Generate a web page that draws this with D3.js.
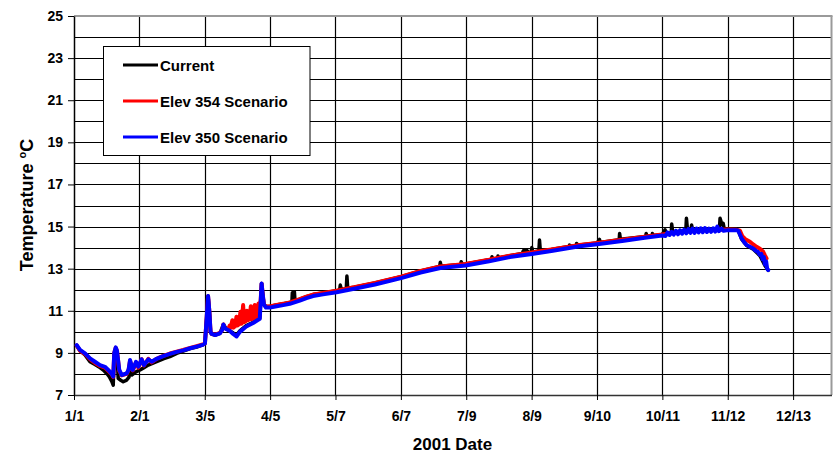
<!DOCTYPE html>
<html>
<head>
<meta charset="utf-8">
<script src="https://cdn.jsdelivr.net/npm/d3@7"></script>
<style>
  html, body { margin: 0; padding: 0; background: #fff; }
  svg text { font-family: "Liberation Sans", Arial, sans-serif; font-weight: bold; fill: #000; }
</style>
</head>
<body>
<svg id="chart" width="835" height="453"></svg>
<script>
// ---- Data (day of year 2001, temperature °C) ----
const xTickDays = [0, 31.5, 63, 94.5, 126, 157.5, 189, 220.5, 252, 283.5, 315, 346.5];
const xTickLabels = ["1/1", "2/1", "3/5", "4/5", "5/7", "6/7", "7/9", "8/9", "9/10", "10/11", "11/12", "12/13"];
const yTickValues = [7, 9, 11, 13, 15, 17, 19, 21, 23, 25];
const yGridValues = [8, 9, 10, 11, 12, 13, 14, 15, 16, 17, 18, 19, 20, 21, 22, 23, 24];
const seriesNames = ["Current", "Elev 354 Scenario", "Elev 350 Scenario"];
const seriesColors = ["#000000", "#ff0000", "#0000ff"];

const currentSeries = [
  [1.3,9.35],[2.9,9.1],[5.3,8.9],[7.7,8.58],[10.1,8.45],[12.5,8.3],[14.1,8.19],[16,8.0],[17,7.87],[18.2,7.65],[18.9,7.47],
  [19.4,8.9],[20.1,9.2],[20.7,9.0],[21.3,7.79],[22.5,7.7],[23.7,7.63],[25.4,7.71],[26.5,7.85],[27,8.4],[27.8,7.95],
  [29.9,8.1],[31.8,8.19],[33.7,8.3],[35.8,8.42],[39.8,8.58],[43,8.72],[46.2,8.82],[49.5,8.98],[52.6,9.08],[56,9.2],
  [59.1,9.28],[62,9.38],[63.1,9.45],[63.9,10.6],[64.6,11.7],[65.2,11.0],[65.8,10.0],[66.3,9.9],[68,9.85],[70.3,9.93],
  [72,10.35],[73.5,10.12],[76.7,9.95],[78.3,9.85],[79.9,10.05],[83,10.3],[86.3,10.45],[89.5,10.65],[90.4,12.3],
  [91.5,11.3],[92.5,11.2],[94.4,11.2],[97,11.26],[100.8,11.33],[104,11.4],[105,11.42],[105.2,11.85],[106.2,11.9],
  [106.5,11.45],[108.8,11.55],[112,11.67],[115.2,11.77],[120,11.85],[126.5,11.95],[128,11.98],[128.3,12.22],
  [128.8,12.0],[131.2,12.05],[131.5,12.65],[131.9,12.07],[135,12.12],[145,12.32],[157.6,12.62],[167,12.89],
  [176.2,13.1],[176.5,13.3],[176.9,13.12],[186.3,13.2],[186.6,13.33],[187,13.21],[188.7,13.22],[200,13.42],
  [201.2,13.44],[201.4,13.57],[201.7,13.45],[204.1,13.5],[204.3,13.6],[204.6,13.51],[210,13.62],[216,13.72],
  [216.5,13.85],[218,13.89],[219,13.76],[220.3,13.78],[220.6,14.0],[221,13.79],[224,13.84],[224.3,14.36],
  [224.7,13.85],[230,13.91],[238.6,14.05],[238.8,14.12],[239.1,14.06],[242,14.1],[242.2,14.2],[242.5,14.11],
  [252,14.22],[253.2,14.39],[253.5,14.24],[262.7,14.38],[262.9,14.67],[263.3,14.4],[275.5,14.53],[275.7,14.67],
  [276,14.54],[278.5,14.57],[278.7,14.67],[279,14.58],[283.4,14.62],[284.8,14.85],[285.3,14.65],[287.8,14.72],
  [288,15.12],[288.5,14.73],[290,14.75],[294.8,14.8],[295.1,15.39],[295.6,14.85],[297.3,14.85],[297.6,15.07],
  [298,14.86],[305,14.88],[311,14.9],[311.3,15.39],[312.2,15.1],[312.8,15.15],[313.3,14.9],[315.2,14.86],
  [319,14.85],[320.1,14.8],[321.7,14.4],[324.1,14.1],[327.3,13.92],[330.5,13.62],[332.9,13.15],[334.5,12.92]
];

const elev354Series = [
  [1.3,9.35],[2.9,9.1],[5.3,8.95],[7.7,8.7],[10.1,8.52],[12.5,8.38],[14.9,8.3],[16.5,8.15],[18.2,7.98],[18.9,7.85],
  [19.4,9.0],[20.1,9.24],[20.7,9.1],[21.8,8.15],[23,7.93],[25.4,8.0],[26.3,8.2],[27,8.62],[28.3,8.17],[29.9,8.55],
  [31,8.3],[32.6,8.7],[33.7,8.4],[35.8,8.72],[37.4,8.55],[39.8,8.72],[43,8.86],[46.2,8.97],[49.5,9.06],[52.6,9.14],
  [56,9.24],[59.1,9.32],[62,9.4],[63.1,9.46],[63.9,10.6],[64.6,11.68],[65.2,11.0],[65.8,10.0],[66.3,9.9],[68,9.87],
  [70.3,9.95],[71.5,10.1],[72,10.35],[72.6,10.2],[73.5,10.15],[74.5,10.12],[75,10.3],[75.5,10.2],[76.3,10.55],
  [76.8,10.2],[77.2,10.45],[77.5,10.25],[78.3,10.72],[78.8,10.3],[79.1,10.6],[79.5,10.35],[80.2,10.95],[80.7,10.38],
  [81.1,10.8],[81.5,11.27],[82,10.45],[82.3,10.9],[82.7,10.5],[83.3,11.0],[83.8,10.55],[84.1,10.95],[84.5,10.58],
  [85.2,11.22],[85.7,10.6],[86,11.0],[86.3,10.62],[87.1,11.27],[87.6,10.65],[87.9,11.1],[88.3,10.7],[88.9,11.35],
  [89.4,10.75],[90,11.6],[90.4,12.28],[90.9,11.8],[91.5,11.3],[92.5,11.2],[94.4,11.2],[97,11.26],
  [100.8,11.33],[104,11.4],[108.8,11.55],[112,11.67],[115.2,11.77],[120,11.85],[126.5,11.95],[135,12.12],[145,12.32],
  [157.6,12.62],[167,12.89],[176.5,13.1],[188.7,13.22],[200,13.42],[210,13.62],[220.6,13.77],[230,13.91],
  [243.6,14.12],[252.1,14.22],[265,14.39],[275,14.52],[283.4,14.62],[290,14.72],[300,14.8],[310,14.85],
  [315.2,14.86],[319,14.85],[320.9,14.8],[322,14.55],[323.5,14.4],[325.7,14.28],[327.3,14.15],[328.9,14.04],
  [330.5,13.95],[332.1,13.8],[333,13.62],[333.7,13.49]
];

const elev350Series = [
  [1.3,9.37],[2.9,9.14],[5.3,8.98],[7.7,8.74],[10.1,8.58],[12.5,8.42],[14.9,8.34],[16.5,8.19],[18.2,8.0],[18.9,7.87],
  [19.4,9.0],[20.1,9.26],[20.7,9.1],[21.8,8.19],[23,7.95],[25.4,8.03],[26.3,8.2],[27,8.66],[28.3,8.19],[29.9,8.58],
  [31,8.34],[32.6,8.69],[33.7,8.42],[35.8,8.69],[37.4,8.58],[39.8,8.72],[43,8.85],[46.2,8.95],[49.5,9.05],[52.6,9.12],
  [56,9.22],[59.1,9.3],[62,9.38],[63.1,9.45],[63.9,10.6],[64.6,11.7],[65.2,11.0],[65.8,10.0],[66.3,9.9],[68,9.85],
  [70.3,9.93],[71.5,10.1],[72,10.35],[72.6,10.2],[73.5,10.12],[75,10.05],[76.7,9.9],[78.3,9.78],[79.9,10.0],
  [83,10.25],[86.3,10.42],[89.5,10.62],[90,11.5],[90.4,12.3],[90.9,11.8],[91.5,11.3],[92.5,11.15],[94.4,11.15],
  [97,11.2],[100.8,11.27],[104,11.33],[108.8,11.48],[112,11.6],[115.2,11.7],[120,11.78],[126.5,11.88],[135,12.05],
  [145,12.25],[157.6,12.55],[167,12.82],[176.5,13.03],[188.7,13.15],[200,13.35],[210,13.55],[220.6,13.7],
  [230,13.84],[243.6,14.06],[252.1,14.16],[265,14.33],[275,14.47],[283.4,14.57],[285,14.55],[286,14.72],
  [287,14.6],[288,14.75],[289,14.62],[290,14.8],[291,14.63],[292,14.82],[293,14.66],[294,14.85],[295,14.68],
  [296,14.88],[297,14.7],[298,14.9],[299,14.7],[300,14.9],[301,14.72],[302,14.92],[303,14.73],[304,14.93],
  [305,14.74],[306,14.9],[307,14.75],[308,14.92],[309,14.76],[310,15.0],[310.7,14.78],[312,14.9],[313,14.8],
  [315.2,14.83],[319,14.83],[320.1,14.8],[321,14.6],[321.7,14.44],[323,14.25],[324.1,14.12],[325.5,14.05],
  [327.3,13.96],[328.5,13.85],[329.5,13.8],[330.5,13.65],[331.2,13.7],[331.8,13.45],[332.4,13.55],[332.9,13.2],
  [333.5,13.35],[334,13.0],[334.5,12.94]
];

// ---- Layout ----
const svg = d3.select("#chart");
const plotLeft = 74, plotRight = 831.5, plotTop = 16, plotBottom = 395;

const x = d3.scaleLinear().domain([0, 365]).range([plotLeft, plotRight]);
const y = d3.scaleLinear().domain([7, 25]).range([plotBottom, plotTop]);

svg.append("rect").attr("width", 835).attr("height", 453).attr("fill", "#fff");

// gridlines
svg.append("g").selectAll("line").data(yGridValues).join("line")
  .attr("x1", plotLeft).attr("x2", plotRight)
  .attr("y1", d => Math.round(y(d)) + 0.5).attr("y2", d => Math.round(y(d)) + 0.5)
  .attr("stroke", "#000").attr("stroke-width", 1.2);
svg.append("g").selectAll("line").data(xTickDays.slice(1)).join("line")
  .attr("x1", d => Math.round(x(d)) + 0.5).attr("x2", d => Math.round(x(d)) + 0.5)
  .attr("y1", plotTop).attr("y2", plotBottom)
  .attr("stroke", "#000").attr("stroke-width", 1.2);

// plot border top/right (grey)
svg.append("line").attr("x1", plotLeft).attr("x2", plotRight + 1).attr("y1", plotTop).attr("y2", plotTop)
  .attr("stroke", "#9a9a9a").attr("stroke-width", 2);
svg.append("line").attr("x1", plotRight).attr("x2", plotRight).attr("y1", plotTop).attr("y2", plotBottom)
  .attr("stroke", "#9a9a9a").attr("stroke-width", 2);

// axes
const yAxis = d3.axisLeft(y).tickValues(yTickValues).tickSize(6).tickSizeOuter(0).tickPadding(5);
const gy = svg.append("g").attr("transform", `translate(${plotLeft},0)`).call(yAxis);
gy.select(".domain").attr("stroke", "#000").attr("stroke-width", 1.5);
gy.selectAll(".tick line").attr("stroke", "#000");
gy.selectAll(".tick text").style("font-size", "14px").attr("font-family", null);

const xAxis = d3.axisBottom(x).tickValues(xTickDays).tickFormat((d, i) => xTickLabels[i])
  .tickSize(5).tickSizeOuter(0).tickPadding(11.5);
const gx = svg.append("g").attr("transform", `translate(0,${plotBottom})`).call(xAxis);
gx.select(".domain").attr("stroke", "#333").attr("stroke-width", 1.5);
gx.selectAll(".tick line").attr("stroke", "#000");
gx.selectAll(".tick text").style("font-size", "14px").attr("font-family", null);

// series
const line = d3.line().x(d => x(d[0])).y(d => y(d[1]));
const allSeries = [currentSeries, elev354Series, elev350Series];
const widths = [3.5, 4, 4];
allSeries.forEach((s, i) => {
  svg.append("path").datum(s)
    .attr("d", line)
    .attr("fill", "none")
    .attr("stroke", seriesColors[i])
    .attr("stroke-width", widths[i])
    .attr("stroke-linejoin", "round")
    .attr("stroke-linecap", "round");
});

// legend
const lg = svg.append("g");
lg.append("rect").attr("x", 103.5).attr("y", 46.5).attr("width", 206.5).attr("height", 109)
  .attr("fill", "#fff").attr("stroke", "#000").attr("stroke-width", 1);
const rowY = [65, 101, 137];
seriesNames.forEach((n, i) => {
  lg.append("line").attr("x1", 123).attr("x2", 158).attr("y1", rowY[i]).attr("y2", rowY[i])
    .attr("stroke", seriesColors[i]).attr("stroke-width", 3);
  lg.append("text").attr("x", 160).attr("y", rowY[i] + 6).style("font-size", "15px").text(n);
});

// titles
svg.append("text").attr("x", 452.5).attr("y", 450).attr("text-anchor", "middle")
  .style("font-size", "17px").text("2001 Date");
const yt = svg.append("text").attr("transform", "translate(33,205) rotate(-90)")
  .attr("text-anchor", "middle").style("font-size", "18px");
yt.append("tspan").text("Temperature ");
yt.append("tspan").attr("dy", -7).style("font-size", "11px").text("o");
yt.append("tspan").attr("dy", 7).text("C");
</script>
</body>
</html>
